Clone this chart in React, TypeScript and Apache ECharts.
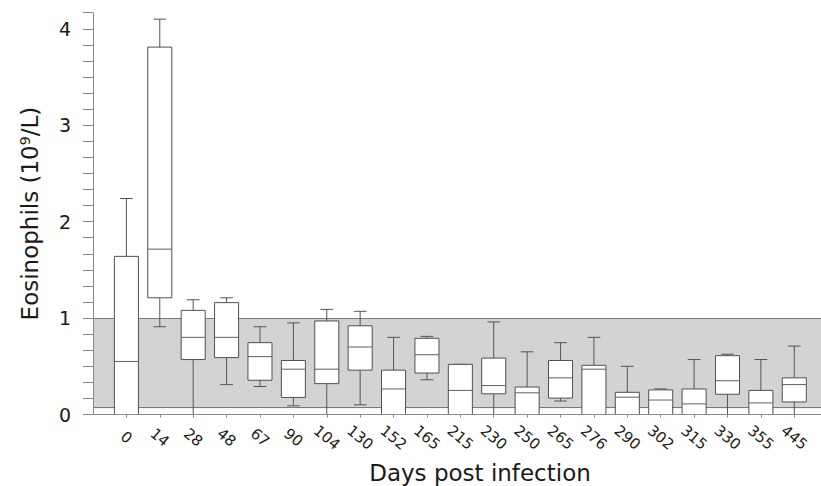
import React, { useEffect, useRef } from "react";
import * as echarts from "echarts";

const days = ["0", "14", "28", "48", "67", "90", "104", "130", "152", "165", "215", "230", "250", "265", "276", "290", "302", "315", "330", "355", "445"];
const whiskerHigh = [2.24, 4.1, 1.19, 1.21, 0.91, 0.95, 1.09, 1.07, 0.8, 0.81, 0.52, 0.96, 0.65, 0.745, 0.8, 0.5, 0.265, 0.57, 0.625, 0.57, 0.71];
const q3 = [1.64, 3.81, 1.08, 1.16, 0.745, 0.56, 0.97, 0.92, 0.46, 0.79, 0.52, 0.585, 0.285, 0.56, 0.51, 0.23, 0.255, 0.265, 0.61, 0.25, 0.38];
const medians = [0.55, 1.715, 0.8, 0.8, 0.6, 0.47, 0.47, 0.7, 0.265, 0.62, 0.25, 0.3, 0.225, 0.38, 0.47, 0.18, 0.15, 0.11, 0.35, 0.12, 0.31];
const q1 = [0, 1.21, 0.57, 0.59, 0.355, 0.177, 0.32, 0.46, 0, 0.43, 0, 0.215, 0, 0.17, 0, 0, 0, 0, 0.21, 0, 0.13];
const whiskerLow = [0, 0.91, 0, 0.31, 0.29, 0.09, 0, 0.1, 0, 0.36, 0, 0, 0, 0.14, 0, 0, 0, 0, 0, 0, 0];
const yTickLabels = ["0", "1", "2", "3", "4"];
const normalLow = 0.065;
const normalHigh = 1.0;

const FONT = "'DejaVu Sans', 'Liberation Sans', Arial, sans-serif";

export default function App() {
  const ref = useRef<HTMLDivElement>(null);
  useEffect(() => {
    if (!ref.current) return;
    const chart = echarts.init(ref.current, null, { renderer: "svg" });
    const tickIdx = days.map((_, i) => i);
    const data = days.map((_, i) => [i, whiskerLow[i], q1[i], medians[i], q3[i], whiskerHigh[i]]);
    const xMin = -1;
    const xMax = 20.8;

    chart.setOption({
      animation: false,
      grid: { left: 93, right: 0, top: 12.7, bottom: 71.5, containLabel: false, outerBoundsMode: "none" },
      xAxis: {
        type: "value",
        min: xMin,
        max: xMax,
        interval: 1,
        z: 10,
        splitLine: { show: false },
        axisLine: { show: true, onZero: false, lineStyle: { color: "#8a8a8a", width: 1 } },
        axisTick: { show: true, customValues: tickIdx, length: 3, lineStyle: { color: "#8a8a8a" } },
        axisLabel: {
          customValues: tickIdx,
          formatter: (v: number) => days[Math.round(v)] ?? "",
          rotate: -40,
          align: "center",
          verticalAlign: "middle",
          margin: 23,
          fontFamily: FONT,
          fontSize: 15,
          color: "#1a1a1a",
        },
        name: "Days post infection",
        nameLocation: "middle",
        nameGap: 47,
        nameTextStyle: { fontFamily: FONT, fontSize: 23, color: "#1a1a1a", padding: [0, 0, 0, 46] },
      },
      yAxis: {
        type: "value",
        min: 0,
        max: 25 / 6,
        interval: 1 / 6,
        z: 10,
        splitLine: { show: false },
        axisLine: { show: true, onZero: false, lineStyle: { color: "#8a8a8a", width: 1 } },
        axisTick: { show: true, length: 10, lineStyle: { color: "#8a8a8a" } },
        axisLabel: {
          formatter: (v: number) =>
            Math.abs(v - Math.round(v)) < 1e-6 ? yTickLabels[Math.round(v)] ?? "" : "",
          margin: 22,
          fontFamily: FONT,
          fontSize: 19,
          color: "#1a1a1a",
        },
        name: "{a|Eosinophils (10}{s|9}{a|/L)}",
        nameLocation: "middle",
        nameGap: 52,
        nameTextStyle: {
          color: "#1a1a1a",
          rich: {
            a: { fontFamily: FONT, fontSize: 23, color: "#1a1a1a" },
            s: { fontFamily: FONT, fontSize: 14, color: "#1a1a1a", verticalAlign: "top", padding: [0, 0, 8, 0] },
          },
        },
      },
      series: [
        {
          type: "line",
          data: [],
          z: 1,
          silent: true,
          markArea: {
            silent: true,
            itemStyle: { color: "#d3d3d3" },
            data: [[{ xAxis: xMin, yAxis: normalLow }, { xAxis: xMax, yAxis: normalHigh }]],
          },
          markLine: {
            silent: true,
            symbol: "none",
            label: { show: false },
            lineStyle: { color: "#7a7a7a", type: "solid", width: 1 },
            data: [{ yAxis: normalHigh }, { yAxis: normalLow }],
          },
        },
        {
          type: "custom",
          z: 5,
          data,
          encode: { x: 0, y: [1, 2, 3, 4, 5] },
          renderItem: (params: any, api: any) => {
            const i = api.value(0);
            const pLow = api.coord([i, api.value(1)]);
            const pQ1 = api.coord([i, api.value(2)]);
            const pMed = api.coord([i, api.value(3)]);
            const pQ3 = api.coord([i, api.value(4)]);
            const pHigh = api.coord([i, api.value(5)]);
            const step = api.size([1, 0])[0];
            const hw = step * 0.36;
            const cw = step * 0.19;
            const x = pMed[0];
            const lineStyle = { stroke: "#555", lineWidth: 1, fill: "none" };
            return {
              type: "group",
              children: [
                { type: "line", shape: { x1: x, y1: pHigh[1], x2: x, y2: pQ3[1] }, style: lineStyle },
                { type: "line", shape: { x1: x, y1: pQ1[1], x2: x, y2: pLow[1] }, style: lineStyle },
                { type: "line", shape: { x1: x - cw, y1: pHigh[1], x2: x + cw, y2: pHigh[1] }, style: lineStyle },
                { type: "line", shape: { x1: x - cw, y1: pLow[1], x2: x + cw, y2: pLow[1] }, style: lineStyle },
                {
                  type: "rect",
                  shape: { x: x - hw, y: pQ3[1], width: hw * 2, height: pQ1[1] - pQ3[1] },
                  style: { fill: "#ffffff", stroke: "#505050", lineWidth: 1 },
                },
                { type: "line", shape: { x1: x - hw, y1: pMed[1], x2: x + hw, y2: pMed[1] }, style: { stroke: "#606060", lineWidth: 1 } },
              ],
            };
          },
        },
      ],
    });
    return () => chart.dispose();
  }, []);
  return (
    <div
      ref={ref}
      style={{ position: "fixed", left: 0, top: 0, width: 821, height: 486, background: "#ffffff" }}
    />
  );
}
